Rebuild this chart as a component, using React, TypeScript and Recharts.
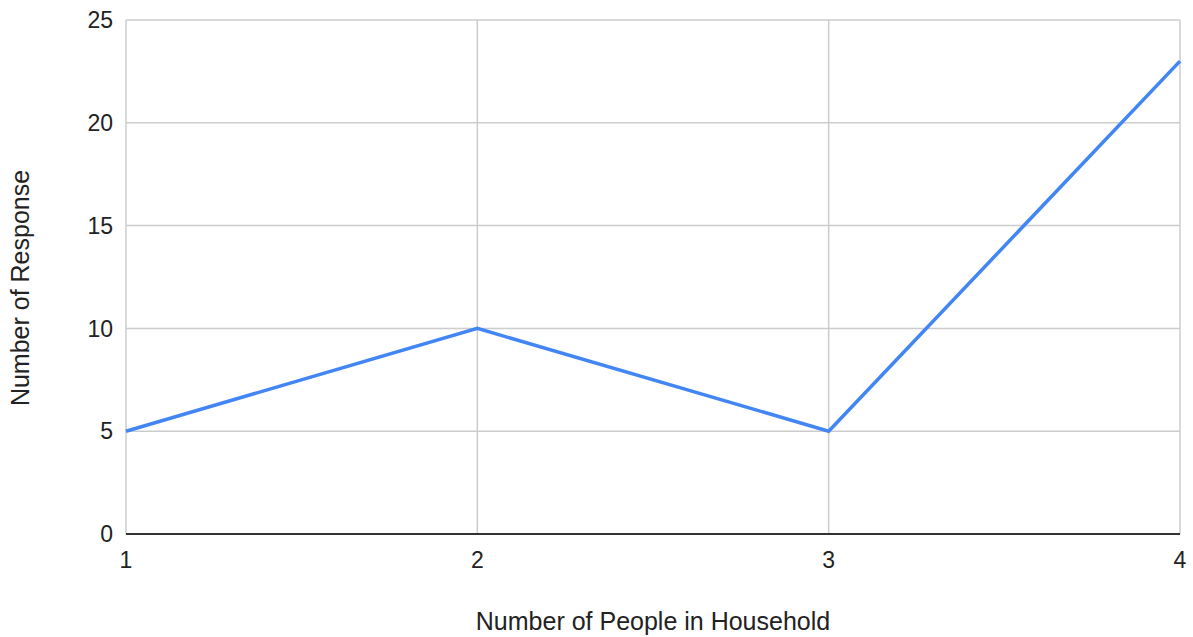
import { LineChart, Line, XAxis, YAxis, CartesianGrid, Label } from "recharts";

const householdSizes = [1, 2, 3, 4];
const responses = [5, 10, 5, 23];
const yTicks = [0, 5, 10, 15, 20, 25];

const data = householdSizes.map((size, i) => ({ size, responses: responses[i] }));

const font = "'Liberation Sans', Arial, sans-serif";

export default function App() {
  return (
    <div style={{ position: "absolute", left: 0, top: 0, background: "#fff" }}>
      <LineChart
        width={1193}
        height={637}
        data={data}
        margin={{ top: 20, right: 13, left: 0, bottom: 0 }}
        style={{ fontFamily: font }}
      >
        <CartesianGrid stroke="#cccccc" strokeWidth={1.5} />
        <XAxis
          dataKey="size"
          type="number"
          domain={[1, 4]}
          ticks={householdSizes}
          height={103}
          tickLine={false}
          tickSize={0}
          tickMargin={18}
          axisLine={{ stroke: "#333333", strokeWidth: 2 }}
          tick={{ fill: "#222222", fontSize: 23 }}
        >
          <Label
            content={({ viewBox }: any) => (
              <text
                x={viewBox.x + viewBox.width / 2}
                y={viewBox.y + 87}
                textAnchor="middle"
                dominantBaseline="central"
                fill="#222222"
                fontSize={25}
              >
                Number of People in Household
              </text>
            )}
          />
        </XAxis>
        <YAxis
          width={126}
          domain={[0, 25]}
          ticks={yTicks}
          tickLine={false}
          tickSize={0}
          tickMargin={13}
          axisLine={false}
          tick={{ fill: "#222222", fontSize: 23 }}
        >
          <Label
            content={({ viewBox }: any) => {
              const cx = 20;
              const cy = viewBox.y + viewBox.height / 2 + 11;
              return (
                <text
                  x={cx}
                  y={cy}
                  transform={`rotate(-90, ${cx}, ${cy})`}
                  textAnchor="middle"
                  dominantBaseline="central"
                  fill="#222222"
                  fontSize={25}
                >
                  Number of Response
                </text>
              );
            }}
          />
        </YAxis>
        <Line
          type="linear"
          dataKey="responses"
          stroke="#4285F4"
          strokeWidth={3.5}
          dot={false}
          activeDot={false}
          isAnimationActive={false}
        />
      </LineChart>
    </div>
  );
}
